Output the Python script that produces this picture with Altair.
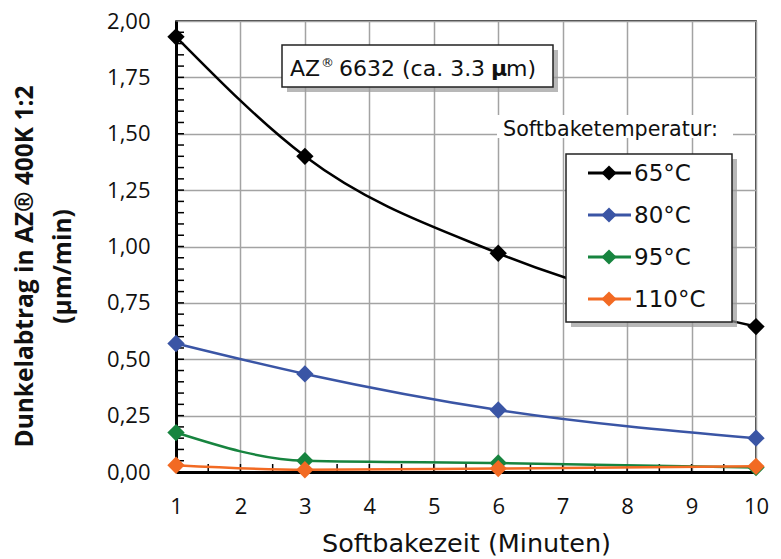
import altair as alt
import pandas as pd

# ---- data ----
zeit = [1, 3, 6, 10]
t65 = [1.93, 1.40, 0.97, 0.645]
t80 = [0.57, 0.435, 0.275, 0.15]
t95 = [0.175, 0.05, 0.04, 0.02]
t110 = [0.03, 0.01, 0.015, 0.025]
serien = ["65°C", "80°C", "95°C", "110°C"]
farben = ["#000000", "#3a55a5", "#17843f", "#f26a23"]
x_ticks = list(range(1, 11))
y_ticks = [0, 0.25, 0.5, 0.75, 1.0, 1.25, 1.5, 1.75, 2.0]
x_minor = [i * 0.5 for i in range(3, 20)]
y_minor = [i * 0.05 for i in range(1, 40)]

FONT = "DejaVu Sans"
BFONT = "Open Sans"
W, H = 580, 451

rows = []
for s, vals in zip(serien, [t65, t80, t95, t110]):
    for z, v in zip(zeit, vals):
        rows.append({"serie": s, "zeit": z, "wert": v})
df = pd.DataFrame(rows)

xscale = alt.Scale(domain=[1, 10], nice=False, zero=False)
yscale = alt.Scale(domain=[0, 2], nice=False, zero=False)
color = alt.Color("serie:N", scale=alt.Scale(domain=serien, range=farben), legend=None)

xaxis = alt.Axis(values=x_ticks, title="Softbakezeit (Minuten)", labelFont=BFONT, labelFontSize=22,
                 labelPadding=24, ticks=False, titleFontSize=25.5, titleFontWeight="normal",
                 titlePadding=14, grid=True, format="d", labelFlush=False)
yaxis = alt.Axis(values=y_ticks, labelExpr="replace(format(datum.value, '.2f'), '.', ',')",
                 title=["Dunkelabtrag in AZ® 400K 1:2", "(µm/min)"], labelFont=BFONT,
                 labelFontSize=22, labelPadding=26, ticks=False, titleFont=BFONT,
                 titleFontSize=24.5, titleFontWeight="bold", titleLineHeight=38, titleX=-151,
                 titleY=245, titleAngle=-90, titleAlign="center", titleBaseline="middle",
                 grid=True, labelFlush=False)

one = pd.DataFrame({"a": [0]})
layers = []

def txt(t, x, y, size, align="left", weight="normal", font=FONT):
    return alt.Chart(one).mark_text(text=t, font=font, fontSize=size, fontWeight=weight,
                                    align=align, baseline="alphabetic", color="#111").encode(
        x=alt.value(x), y=alt.value(y))

# white background behind the legend heading (covers grid)
layers.append(alt.Chart(one).mark_rect(color="white").encode(
    x=alt.value(321), x2=alt.value(557), y=alt.value(94), y2=alt.value(117)))
layers.append(txt("Softbaketemperatur:", 327, 115, 20.7))

# annotation box
layers.append(alt.Chart(one).mark_rect(color="#9a9a9a", opacity=0.7).encode(
    x=alt.value(111), x2=alt.value(382), y=alt.value(29), y2=alt.value(71)))
layers.append(alt.Chart(one).mark_rect(fill="white", stroke="#222", strokeWidth=1.5).encode(
    x=alt.value(106), x2=alt.value(377), y=alt.value(24), y2=alt.value(66)))
layers.append(txt("AZ", 114, 55, 22))
layers.append(txt("®", 145, 46, 13))
layers.append(txt("6632 (ca. 3.3", 163, 55, 22))
layers.append(txt("µ", 315, 55, 22, weight="bold"))
layers.append(txt("m)", 330, 55, 22))

# minor / inner ticks
layers.append(alt.Chart(pd.DataFrame({"v": y_minor})).mark_rule(color="black", strokeWidth=1.5).encode(
    y=alt.Y("v:Q", scale=yscale, axis=yaxis), x=alt.value(0), x2=alt.value(8)))
layers.append(alt.Chart(pd.DataFrame({"v": x_minor})).mark_rule(color="black", strokeWidth=1.5).encode(
    x=alt.X("v:Q", scale=xscale, axis=xaxis), y=alt.value(H - 8), y2=alt.value(H)))

# data series
for s in serien:
    d = df[df.serie == s]
    layers.append(alt.Chart(d).mark_line(interpolate="monotone", strokeWidth=2.5).encode(
        x=alt.X("zeit:Q", scale=xscale, axis=xaxis),
        y=alt.Y("wert:Q", scale=yscale, axis=yaxis),
        color=color))
    layers.append(alt.Chart(d).mark_point(shape="diamond", filled=True, size=300, opacity=1).encode(
        x=alt.X("zeit:Q", scale=xscale, axis=xaxis),
        y=alt.Y("wert:Q", scale=yscale, axis=yaxis),
        color=color))

# legend box
layers.append(alt.Chart(one).mark_rect(color="#9a9a9a", opacity=0.7).encode(
    x=alt.value(395), x2=alt.value(561), y=alt.value(138), y2=alt.value(306)))
layers.append(alt.Chart(one).mark_rect(fill="white", stroke="#222", strokeWidth=1.5).encode(
    x=alt.value(390), x2=alt.value(556), y=alt.value(133), y2=alt.value(301)))

for i, s in enumerate(serien):
    ly = 152 + 42 * i
    ld = pd.DataFrame({"serie": [s]})
    layers.append(alt.Chart(ld).mark_rule(strokeWidth=3).encode(
        x=alt.value(412), x2=alt.value(455), y=alt.value(ly), color=color))
    layers.append(alt.Chart(ld).mark_point(shape="diamond", filled=True, size=230, opacity=1).encode(
        x=alt.value(433), y=alt.value(ly), color=color))
    layers.append(alt.Chart(ld).mark_text(font=FONT, fontSize=23, align="left", baseline="middle",
                                          color="#111", dy=1).encode(
        x=alt.value(458), y=alt.value(ly), text="serie:N"))

chart = alt.layer(*layers).properties(
    width=W, height=H,
    autosize=alt.AutoSizeParams(type="none"),
    padding={"left": 176, "top": 21, "right": 25, "bottom": 87},
    background="white",
).configure_view(stroke="black", strokeWidth=1.5).configure_axis(
    labelFont=FONT, titleFont=FONT, labelColor="#111", titleColor="#111",
    domainColor="black", domainWidth=3, gridColor="#a3a3a3", gridWidth=1.5,
)

chart.save("out.html", embed_options={"renderer": "svg", "actions": False})
